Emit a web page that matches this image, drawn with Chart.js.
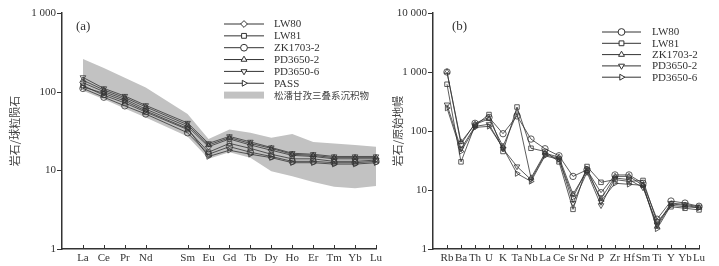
<!DOCTYPE html>
<html>
<head>
<meta charset="utf-8">
<script src="https://cdn.jsdelivr.net/npm/chart.js@4.4.1/dist/chart.umd.min.js"></script>
<style>
  body { margin: 0; background: #fff; }
  #wrap { position: relative; width: 719px; height: 266px; }
  #ca { position: absolute; left: 0; top: 0; }
  #cb { position: absolute; left: 380px; top: 0; }
</style>
</head>
<body>
<div id="wrap">
  <canvas id="ca" width="390" height="266" style="width:390px;height:266px"></canvas>
  <canvas id="cb" width="339" height="266" style="width:339px;height:266px"></canvas>
</div>
<script>
// (a) 稀土元素 球粒陨石标准化 (Pm 位置留空)
const reeTicks = ['La', 'Ce', 'Pr', 'Nd', '', 'Sm', 'Eu', 'Gd', 'Tb', 'Dy', 'Ho', 'Er', 'Tm', 'Yb', 'Lu'];
const reeLW80     = [130, 100, 80, 60, null, 36, 20, 25, 21, 18, 15.5, 15, 14, 14, 14];
const reeLW81     = [120, 90, 72, 55, null, 33, 17, 22, 19, 16, 14, 14, 13, 13, 13.5];
const reeZK1703_2 = [110, 85, 66, 52, null, 30, 16, 20, 17, 15, 13, 13, 12.5, 12.5, 13];
const reePD3650_2 = [140, 105, 84, 64, null, 38, 21, 26, 22, 19, 16, 15.5, 14.5, 14.5, 14.5];
const reePD3650_6 = [152, 110, 88, 67, null, 40, 22, 27, 23, 19.5, 16.5, 16, 15, 15, 15];
const reePASS     = [115, 95, 76, 57, null, 34, 15, 18, 16, 14.5, 12.5, 12.5, 12, 12, 12.5];
const bandUpper   = [260, 200, 150, 113, null, 52, 25, 33, 30, 26, 29, 23, 22, 21, 20];
const bandLower   = [103, 80, 61, 47, null, 27, 14, 17, 14.5, 9.7, 8.4, 7.1, 6.2, 5.9, 6.3];
const reeYTicks = [1, 10, 100, 1000];

// (b) 微量元素 原始地幔标准化
const teTicks = ['Rb', 'Ba', 'Th', 'U', 'K', 'Ta', 'Nb', 'La', 'Ce', 'Sr', 'Nd', 'P', 'Zr', 'Hf', 'Sm', 'Ti', 'Y', 'Yb', 'Lu'];
const teLW80     = [1000, 60, 135, 170, 90, 180, 73, 50, 38, 17, 22, 9, 18, 18, 13, 3.2, 6.5, 6.0, 5.3];
const teLW81     = [620, 30, 125, 190, 45, 255, 51, 45, 30, 4.7, 25, 13.5, 15, 14, 14.5, 2.9, 5.2, 4.9, 4.6];
const teZK1703_2 = [1000, 65, 130, 160, 55, 200, 16, 42, 36, 8.5, 21, 7, 17, 17, 12, 2.4, 5.8, 5.5, 5.0];
const tePD3650_2 = [280, 50, 120, 130, 50, 25, 15, 40, 34, 6, 20, 5.5, 16, 15, 11, 2.6, 6.0, 5.7, 5.2];
const tePD3650_6 = [245, 45, 115, 120, 52, 19, 14, 38, 33, 7.5, 23, 6.5, 13, 12.5, 12, 2.2, 5.5, 5.2, 5.0];
const teYTicks = [1, 10, 100, 1000, 10000];

const SERIF = "'Liberation Serif', 'Times New Roman', serif";
const CJK = "'Noto Sans CJK SC', sans-serif";
const INK = '#333';
const BAND = '#c2c2c2';

function pts(vals) {
  return vals.map((v, i) => ({ x: i, y: v })).filter(p => p.y !== null);
}
function fmt(v) {
  return String(v).replace(/\B(?=(\d{3})+(?!\d))/g, ' ');
}
function series(label, vals, style, rot) {
  return {
    label: label, data: pts(vals),
    borderColor: INK, borderWidth: 0.8,
    pointStyle: style, pointRotation: rot || 0, pointRadius: 3.2,
    pointBorderColor: INK, pointBorderWidth: 0.8,
    pointBackgroundColor: 'rgba(0,0,0,0)',
    tension: 0, fill: false, clip: false
  };
}

// 刻度线、轴标题、图例
const decor = {
  id: 'decor',
  afterDraw(chart, args, o) {
    const { ctx, chartArea: a, scales: { x, y } } = chart;
    ctx.save();
    ctx.strokeStyle = INK;
    ctx.lineWidth = 1;
    ctx.beginPath();
    x.ticks.forEach(t => {
      const px = Math.round(x.getPixelForValue(t.value)) + 0.5;
      ctx.moveTo(px, a.bottom); ctx.lineTo(px, a.bottom - 4);
    });
    y.ticks.forEach(t => {
      const py = Math.round(y.getPixelForValue(t.value)) + 0.5;
      ctx.moveTo(a.left - 5, py); ctx.lineTo(a.left, py);
    });
    ctx.stroke();

    // 纵轴标题
    ctx.fillStyle = '#444';
    ctx.font = '11px ' + CJK;
    ctx.textAlign = 'center';
    ctx.textBaseline = 'middle';
    ctx.save();
    ctx.translate(o.titleX, (a.top + a.bottom) / 2);
    ctx.rotate(-Math.PI / 2);
    ctx.fillText(o.title, 0, 0);
    ctx.restore();

    // (a) / (b)
    ctx.fillStyle = INK;
    ctx.font = '13px ' + SERIF;
    ctx.textAlign = 'left';
    ctx.fillText(o.tag, o.tagX, 27);

    // 图例
    const lg = o.legend;
    ctx.font = '11px ' + SERIF;
    chart.data.datasets.forEach((ds, i) => {
      if (ds.noLegend) return;
      const ry = lg.y0 + lg.step * i;
      ctx.strokeStyle = INK;
      ctx.lineWidth = 1;
      ctx.beginPath();
      ctx.moveTo(lg.x0, ry); ctx.lineTo(lg.x1, ry);
      ctx.stroke();
      ctx.fillStyle = '#fff';
      Chart.helpers.drawPoint(ctx, {
        pointStyle: ds.pointStyle, rotation: ds.pointRotation,
        radius: 3.4, borderWidth: 1
      }, (lg.x0 + lg.x1) / 2, ry);
      ctx.fillStyle = INK;
      ctx.fillText(ds.label, lg.tx, ry + 0.5);
    });
    if (lg.band) {
      const ry = lg.y0 + lg.step * lg.bandRow;
      ctx.fillStyle = BAND;
      ctx.fillRect(lg.x0, ry - 3.5, lg.x1 - lg.x0, 7);
      ctx.fillStyle = '#444';
      ctx.font = '9.5px ' + CJK;
      ctx.fillText(lg.band, lg.tx, ry + 0.5);
    }
    ctx.restore();
  }
};

function makeOptions(ticks, yTicks, yMax, yWidth, padRight, deco) {
  return {
    responsive: false,
    animation: false,
    layout: { padding: { top: 13, right: padRight, left: 0, bottom: 0 } },
    plugins: { legend: { display: false }, tooltip: { enabled: false }, decor: deco },
    scales: {
      x: {
        type: 'linear', min: -1, max: ticks.length - 1,
        grid: { display: false, drawTicks: false, tickLength: 0 },
        border: { display: true, color: INK, width: 1.5 },
        afterBuildTicks: s => { s.ticks = ticks.map((t, i) => ({ value: i })).filter(t => ticks[t.value] !== ''); },
        afterFit: s => { s.height = 17; },
        ticks: {
          autoSkip: false, maxRotation: 0, padding: 3, color: INK,
          font: { family: SERIF, size: 11 },
          callback: v => ticks[v]
        }
      },
      y: {
        type: 'logarithmic', min: 1, max: yMax,
        grid: { display: false, drawTicks: false, tickLength: 0 },
        border: { display: true, color: INK, width: 1.5 },
        afterBuildTicks: s => { s.ticks = yTicks.map(v => ({ value: v })); },
        afterFit: s => { s.width = yWidth; },
        ticks: {
          padding: 6, color: INK,
          font: { family: SERIF, size: 11 },
          callback: v => fmt(v)
        }
      }
    }
  };
}

const bandTop = {
  label: 'band-top', data: pts(bandUpper), noLegend: true,
  borderWidth: 0, pointRadius: 0, backgroundColor: BAND, fill: '+1', tension: 0
};
const bandBottom = {
  label: 'band-bottom', data: pts(bandLower), noLegend: true,
  borderWidth: 0, pointRadius: 0, backgroundColor: BAND, fill: false, tension: 0
};

new Chart(document.getElementById('ca'), {
  type: 'line',
  data: {
    datasets: [
      series('LW80', reeLW80, 'rectRot'),
      series('LW81', reeLW81, 'rect'),
      series('ZK1703-2', reeZK1703_2, 'circle'),
      series('PD3650-2', reePD3650_2, 'triangle'),
      series('PD3650-6', reePD3650_6, 'triangle', 180),
      series('PASS', reePASS, 'triangle', 90),
      bandTop, bandBottom
    ]
  },
  options: makeOptions(reeTicks, reeYTicks, 1000, 62, 14, {
    title: '岩石/球粒陨石', titleX: 15, tag: '(a)', tagX: 76,
    legend: { x0: 224, x1: 264, tx: 274, y0: 24, step: 11.85, band: '松潘甘孜三叠系沉积物', bandRow: 6 }
  }),
  plugins: [decor]
});

new Chart(document.getElementById('cb'), {
  type: 'line',
  data: {
    datasets: [
      series('LW80', teLW80, 'circle'),
      series('LW81', teLW81, 'rect'),
      series('ZK1703-2', teZK1703_2, 'triangle'),
      series('PD3650-2', tePD3650_2, 'triangle', 180),
      series('PD3650-6', tePD3650_6, 'triangle', 90)
    ]
  },
  options: makeOptions(teTicks, teYTicks, 10000, 53, 20, {
    title: '岩石/原始地幔', titleX: 18, tag: '(b)', tagX: 72,
    legend: { x0: 222, x1: 261, tx: 272, y0: 32, step: 11.3 }
  }),
  plugins: [decor]
});
</script>
</body>
</html>
